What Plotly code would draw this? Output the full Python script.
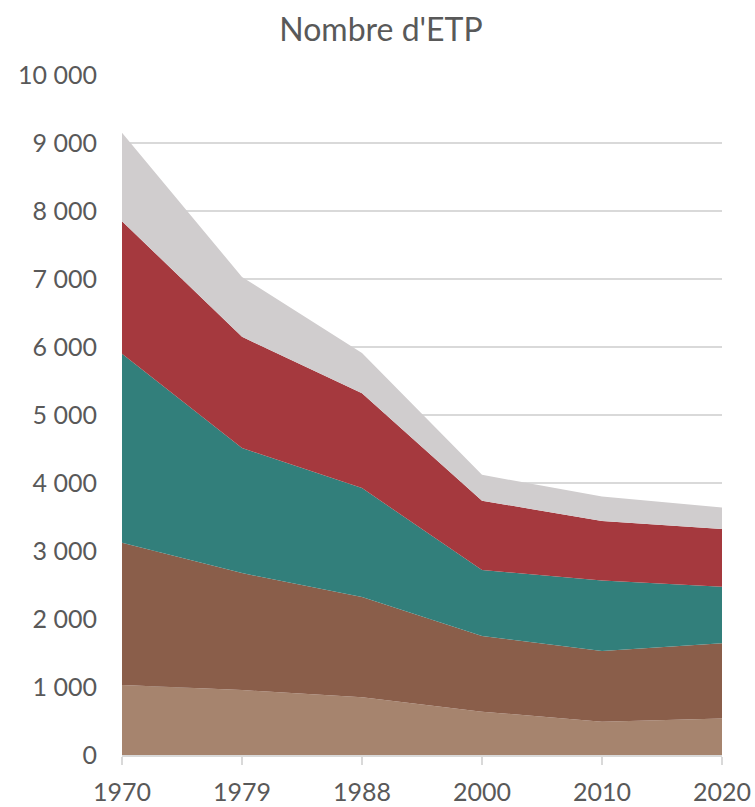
import plotly.graph_objects as go

years = ["1970", "1979", "1988", "2000", "2010", "2020"]
serie_1 = [1030, 955, 850, 637, 490, 535]
serie_2 = [2090, 1720, 1475, 1113, 1040, 1110]
serie_3 = [2780, 1840, 1600, 970, 1035, 830]
serie_4 = [1950, 1635, 1395, 1020, 875, 850]
serie_5 = [1300, 880, 590, 380, 360, 315]

series = [
    ("Série 1", serie_1, "#A6846E"),
    ("Série 2", serie_2, "#8A5E4A"),
    ("Série 3", serie_3, "#327F7B"),
    ("Série 4", serie_4, "#A5393E"),
    ("Série 5", serie_5, "#D0CDCE"),
]

fig = go.Figure()
for name, vals, col in series:
    fig.add_trace(go.Scatter(
        x=years, y=vals, name=name, mode="none",
        stackgroup="one", fillcolor=col, line=dict(width=0),
    ))

W, H = 755, 807
fig.update_layout(
    width=W, height=H,
    margin=dict(l=122, r=33, t=75, b=52),
    paper_bgcolor="white", plot_bgcolor="white",
    showlegend=False,
    separators=", ",
    font=dict(family="Lato", color="#595959"),
    title=dict(text="Nombre d'ETP", x=381 / W, xref="container", xanchor="center",
               y=1 - 30 / H, yref="container", yanchor="middle",
               font=dict(size=32, color="#595959", family="Lato")),
    xaxis=dict(type="category", range=[0, 5], showgrid=False, automargin=False,
               showline=True, linecolor="#D9D9D9", linewidth=2,
               ticks="outside", ticklen=8, tickcolor="#D9D9D9", tickwidth=2,
               ticklabelstandoff=6,
               tickfont=dict(size=25, color="#595959", family="Lato")),
    yaxis=dict(range=[0, 10000], dtick=1000, tickformat=",d", automargin=False,
               showgrid=True, gridcolor="#D9D9D9", gridwidth=2,
               zeroline=False, showline=False, ticks="",
               ticklabelstandoff=24,
               tickfont=dict(size=25, color="#595959", family="Lato")),
)

fig.write_html(
    "out.html",
    config={"displayModeBar": False},
    post_script="document.body.style.margin='0';document.body.style.overflow='hidden';",
)
